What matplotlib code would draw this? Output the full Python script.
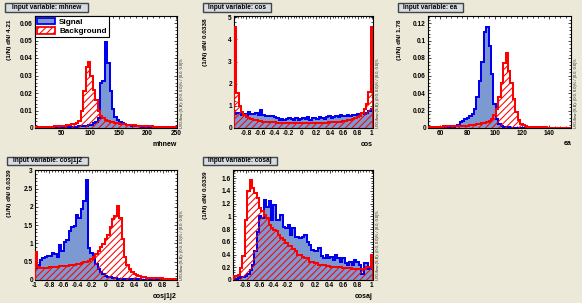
import numpy as np
import matplotlib
matplotlib.use('Agg')
import matplotlib.pyplot as plt
from matplotlib.patches import Rectangle, Patch
from matplotlib.ticker import MultipleLocator, FuncFormatter

plt.rcParams['font.family'] = ['Liberation Sans', 'DejaVu Sans']
plt.rcParams['hatch.linewidth'] = 0.75

# ---------------- data (normalised histograms, 59 bins each) ----------------
variables = ['mhnew', 'cos', 'ea', 'cosj1j2', 'cosaj']
bin_widths = ['4.21', '0.0338', '1.78', '0.0339', '0.0339']
ranges = [(3.6, 252.0), (-0.975, 1.019), (51.0, 156.0), (-1.0, 1.0), (-0.98, 1.02)]

sig_mhnew = [0.0002, 0.0002, 0.0002, 0.0003, 0.0003, 0.0003, 0.0003, 0.0004, 0.0004, 0.0004,
             0.0004, 0.0005, 0.0005, 0.0005, 0.0006, 0.0006, 0.0007, 0.0008, 0.0009, 0.0010,
             0.0012, 0.0014, 0.0017, 0.0020, 0.0026, 0.0035, 0.0055, 0.0260, 0.0270, 0.0490,
             0.0370, 0.0210, 0.0110, 0.0065, 0.0045, 0.0035, 0.0028, 0.0023, 0.0019, 0.0016,
             0.0013, 0.0011, 0.0010, 0.0009, 0.0008, 0.0007, 0.0006, 0.0005, 0.0005, 0.0004,
             0.0004, 0.0003, 0.0003, 0.0003, 0.0002, 0.0002, 0.0002, 0.0002, 0.0001]
bkg_mhnew = [0.0005, 0.0005, 0.0006, 0.0006, 0.0007, 0.0007, 0.0008, 0.0008, 0.0009, 0.0010,
             0.0011, 0.0012, 0.0014, 0.0016, 0.0018, 0.0021, 0.0025, 0.0030, 0.0042, 0.0100,
             0.0210, 0.0350, 0.0375, 0.0300, 0.0220, 0.0160, 0.0100, 0.0070, 0.0055, 0.0046,
             0.0041, 0.0037, 0.0033, 0.0030, 0.0027, 0.0025, 0.0023, 0.0021, 0.0019, 0.0018,
             0.0016, 0.0015, 0.0014, 0.0013, 0.0012, 0.0011, 0.0010, 0.0010, 0.0009, 0.0008,
             0.0008, 0.0007, 0.0007, 0.0006, 0.0006, 0.0005, 0.0005, 0.0005, 0.0004]

sig_cos = [0.62, 0.70, 0.66, 0.60, 0.64, 0.60, 0.72, 0.64, 0.62, 0.66,
           0.60, 0.82, 0.60, 0.56, 0.54, 0.56, 0.52, 0.50, 0.46, 0.38,
           0.42, 0.36, 0.40, 0.45, 0.40, 0.38, 0.44, 0.36, 0.42, 0.46,
           0.40, 0.48, 0.36, 0.44, 0.46, 0.40, 0.48, 0.44, 0.42, 0.50,
           0.52, 0.46, 0.50, 0.54, 0.48, 0.60, 0.54, 0.52, 0.58, 0.56,
           0.60, 0.58, 0.64, 0.62, 0.66, 0.64, 0.70, 0.76, 0.86]
bkg_cos = [4.55, 1.60, 1.00, 0.74, 0.58, 0.48, 0.43, 0.39, 0.36, 0.34,
           0.32, 0.30, 0.29, 0.28, 0.27, 0.26, 0.25, 0.25, 0.24, 0.24,
           0.23, 0.23, 0.23, 0.22, 0.22, 0.22, 0.22, 0.22, 0.22, 0.22,
           0.22, 0.22, 0.22, 0.22, 0.22, 0.23, 0.23, 0.23, 0.24, 0.24,
           0.25, 0.25, 0.26, 0.27, 0.28, 0.29, 0.30, 0.32, 0.34, 0.36,
           0.39, 0.43, 0.48, 0.56, 0.70, 0.88, 1.10, 1.62, 4.55]

sig_ea = [0.0003, 0.0003, 0.0003, 0.0004, 0.0004, 0.0005, 0.0005, 0.0006, 0.0007, 0.0008,
          0.0010, 0.0020, 0.0040, 0.0070, 0.0080, 0.0100, 0.0120, 0.0140, 0.0160, 0.0220,
          0.0350, 0.0540, 0.0750, 0.1100, 0.1160, 0.0940, 0.0620, 0.0270, 0.0100, 0.0050,
          0.0020, 0.0012, 0.0008, 0.0006, 0.0005, 0.0004, 0.0003, 0.0003, 0.0002, 0.0002,
          0.0002, 0.0002, 0.0001, 0.0001, 0.0001, 0.0001, 0.0001, 0.0001, 0.0001, 0.0001,
          0.0001, 0.0001, 0.0001, 0.0001, 0.0001, 0.0001, 0.0001, 0.0001, 0.0001]
bkg_ea = [0.0015, 0.0015, 0.0016, 0.0016, 0.0017, 0.0017, 0.0018, 0.0018, 0.0019, 0.0020,
          0.0020, 0.0021, 0.0022, 0.0023, 0.0024, 0.0025, 0.0027, 0.0030, 0.0033, 0.0037,
          0.0042, 0.0047, 0.0053, 0.0060, 0.0068, 0.0080, 0.0100, 0.0150, 0.0220, 0.0350,
          0.0520, 0.0740, 0.0860, 0.0650, 0.0510, 0.0330, 0.0180, 0.0090, 0.0050, 0.0030,
          0.0020, 0.0015, 0.0012, 0.0010, 0.0009, 0.0008, 0.0007, 0.0006, 0.0006, 0.0005,
          0.0005, 0.0005, 0.0004, 0.0004, 0.0004, 0.0004, 0.0003, 0.0003, 0.0003]

sig_cosj1j2 = [0.33, 0.42, 0.55, 0.60, 0.62, 0.65, 0.65, 0.74, 0.71, 0.62,
               0.96, 0.78, 1.04, 1.10, 1.33, 1.44, 1.49, 1.78, 1.70, 1.95,
               2.15, 2.74, 0.88, 0.75, 0.62, 0.44, 0.30, 0.22, 0.16, 0.12,
               0.09, 0.07, 0.06, 0.05, 0.04, 0.04, 0.03, 0.03, 0.03, 0.02,
               0.02, 0.02, 0.02, 0.02, 0.01, 0.01, 0.01, 0.01, 0.01, 0.01,
               0.01, 0.01, 0.01, 0.01, 0.01, 0.01, 0.01, 0.01, 0.01]
bkg_cosj1j2 = [0.77, 0.36, 0.33, 0.33, 0.34, 0.34, 0.35, 0.35, 0.36, 0.36,
               0.37, 0.38, 0.38, 0.39, 0.40, 0.41, 0.42, 0.43, 0.45, 0.46,
               0.48, 0.50, 0.53, 0.57, 0.62, 0.71, 0.80, 0.89, 0.98, 1.12,
               1.22, 1.45, 1.66, 1.74, 2.02, 1.70, 1.12, 0.62, 0.40, 0.30,
               0.22, 0.16, 0.13, 0.10, 0.09, 0.07, 0.06, 0.055, 0.05, 0.05,
               0.05, 0.05, 0.05, 0.04, 0.04, 0.04, 0.03, 0.03, 0.03]

sig_cosaj = [0.02, 0.02, 0.03, 0.04, 0.05, 0.06, 0.10, 0.16, 0.24, 0.45,
             0.76, 1.00, 0.97, 1.26, 1.15, 1.24, 0.94, 1.18, 0.94, 0.94,
             1.02, 0.84, 0.81, 0.87, 0.71, 0.81, 0.68, 0.68, 0.66, 0.68,
             0.71, 0.60, 0.55, 0.47, 0.45, 0.45, 0.50, 0.37, 0.34, 0.39,
             0.34, 0.36, 0.31, 0.39, 0.34, 0.29, 0.34, 0.26, 0.24, 0.29,
             0.24, 0.31, 0.29, 0.24, 0.10, 0.26, 0.26, 0.18, 0.20]
bkg_cosaj = [0.06, 0.06, 0.08, 0.19, 0.37, 0.95, 1.40, 1.58, 1.45, 1.37,
             1.29, 1.13, 1.08, 1.03, 0.98, 0.87, 0.82, 0.79, 0.77, 0.71,
             0.66, 0.63, 0.58, 0.53, 0.53, 0.48, 0.46, 0.40, 0.39, 0.36,
             0.35, 0.34, 0.29, 0.29, 0.27, 0.26, 0.24, 0.24, 0.23, 0.22,
             0.22, 0.21, 0.21, 0.20, 0.20, 0.20, 0.19, 0.19, 0.19, 0.19,
             0.18, 0.18, 0.18, 0.18, 0.18, 0.18, 0.20, 0.20, 0.39]

signals = [sig_mhnew, sig_cos, sig_ea, sig_cosj1j2, sig_cosaj]
backgrounds = [bkg_mhnew, bkg_cos, bkg_ea, bkg_cosj1j2, bkg_cosaj]
overflow_text = 'U/O-flow (S,B): (0.0, 0.0)% / (0.0, 0.0)%'

# ---------------- layout / style ----------------
W, H = 582, 303
fig = plt.figure(figsize=(W / 100, H / 100), dpi=100)
BG = '#ece9d8'
fig.patch.set_facecolor(BG)

SIG_FILL, SIG_LINE = '#7d99d1', '#0000ee'
BKG_LINE = '#ff0000'

# axes boxes in pixels: left, top, right, bottom
axes_px = [(35, 16, 177, 128), (234, 16, 373, 128), (428, 16, 571, 128),
           (35, 170, 177, 280), (233, 170, 373, 280)]
title_px = [(5, 3, 88, 12), (203, 3, 271, 12), (398, 3, 463, 12),
            (7, 157, 88, 165), (203, 157, 277, 165)]
ylabel_px = [(10, 20), (205, 18), (400, 19), (9.5, 169), (205, 171)]
xlabel_y = [145, 144, 143, 297, 297]
ylims = [0.064, 5.06, 0.128, 3.01, 1.73]
xmaj = [50, 0.2, 20, 0.2, 0.2]
ymaj = [0.01, 1, 0.02, 0.5, 0.2]


def fx(px):
    return px / W


def fy(py):
    return 1 - py / H


def fmt(v, pos):
    v = round(v, 6) + 0.0
    if v == 0:
        return '0'
    return '%g' % v


for i in range(5):
    l, t, r, b = axes_px[i]
    ax = fig.add_axes([fx(l), fy(b), (r - l) / W, (b - t) / H])
    ax.set_facecolor('white')
    xmin, xmax = ranges[i]
    sig = np.array(signals[i])
    bkg = np.array(backgrounds[i])
    edges = np.linspace(xmin, xmax, len(sig) + 1)

    ax.stairs(sig, edges, fill=True, facecolor=SIG_FILL, edgecolor='none', zorder=2)
    ax.stairs(sig, edges, baseline=0, color=SIG_LINE, lw=1.45, zorder=3)
    ax.stairs(bkg, edges, fill=True, facecolor='none', edgecolor=BKG_LINE,
              hatch='/////', lw=0, zorder=4)
    ax.stairs(bkg, edges, baseline=0, color=BKG_LINE, lw=1.45, zorder=5)

    ax.set_xlim(xmin, xmax)
    ax.set_ylim(0, ylims[i])
    ax.xaxis.set_major_locator(MultipleLocator(xmaj[i]))
    ax.xaxis.set_minor_locator(MultipleLocator(xmaj[i] / 5))
    ax.yaxis.set_major_locator(MultipleLocator(ymaj[i]))
    ax.yaxis.set_minor_locator(MultipleLocator(ymaj[i] / 5))
    ax.xaxis.set_major_formatter(FuncFormatter(fmt))
    ax.yaxis.set_major_formatter(FuncFormatter(fmt))
    ax.tick_params(which='both', direction='in', top=True, right=True, width=0.5,
                   colors='black', labelsize=4.7, pad=1.5)
    ax.tick_params(which='major', length=2.4)
    ax.tick_params(which='minor', length=1.2)
    for lab in ax.get_xticklabels() + ax.get_yticklabels():
        lab.set_fontweight('bold')
    for s in ax.spines.values():
        s.set_linewidth(0.8)
        s.set_color('black')

    # title box
    tl, tt, tr, tb = title_px[i]
    fig.patches.append(Rectangle((fx(tl), fy(tb)), (tr - tl) / W, (tb - tt) / H,
                                 transform=fig.transFigure, facecolor='#d9dce1',
                                 edgecolor='#3e454f', lw=1.0))
    fig.text(fx((tl + tr) / 2), fy((tt + tb) / 2), 'Input variable: ' + variables[i],
             ha='center', va='center', fontsize=4.7, fontweight='bold')

    # y label
    yx, yt = ylabel_px[i]
    fig.text(fx(yx), fy(yt), '(1/N) dN/ ' + bin_widths[i], rotation=90,
             ha='center', va='top', fontsize=4.6, fontweight='bold')
    # x label
    fig.text(fx(r), fy(xlabel_y[i]), variables[i], ha='right', va='center',
             fontsize=5.0, fontweight='bold')
    # overflow text
    fig.text(fx(r + 5.5), fy(b), overflow_text, rotation=90, ha='center', va='bottom',
             fontsize=2.9, color='#222222')

    if i == 0:
        handles = [Patch(facecolor=SIG_FILL, edgecolor=SIG_LINE, lw=1.3),
                   Patch(facecolor='white', edgecolor=BKG_LINE, hatch='/////', lw=1.3)]
        leg = ax.legend(handles, ['Signal', 'Background'], loc='upper left',
                        bbox_to_anchor=(0, 1), borderaxespad=0, frameon=True,
                        fancybox=False, edgecolor='black', framealpha=1,
                        handlelength=2.2, handleheight=0.8, borderpad=0.25,
                        labelspacing=0.15, handletextpad=0.5,
                        prop=dict(family=['Liberation Sans', 'DejaVu Sans'],
                                  weight='bold', size=5.9))
        leg.get_frame().set_linewidth(0.8)
        leg.set_zorder(10)

fig.savefig('out.png', dpi=100, facecolor=BG)
